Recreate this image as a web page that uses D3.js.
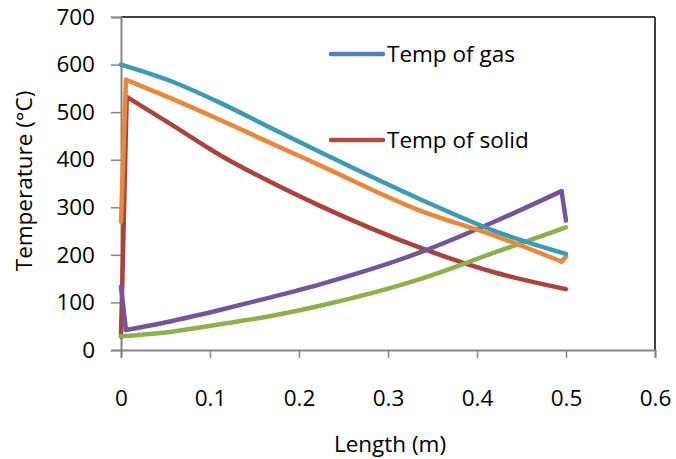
<!DOCTYPE html>
<html>
<head>
<meta charset="utf-8">
<script src="https://cdn.jsdelivr.net/npm/d3@7"></script>
<style>
  body { margin: 0; background: #fff; }
  svg text { font-family: "Open Sans", "Liberation Sans", sans-serif; fill: #000; }
</style>
</head>
<body>
<svg id="chart" width="676" height="459"></svg>
<script>
/** data **/
var xTicks = [0, 0.1, 0.2, 0.3, 0.4, 0.5, 0.6];
var yTicks = [0, 100, 200, 300, 400, 500, 600, 700];

var gasX    = [0, 0.055, 0.111, 0.167, 0.2236, 0.336, 0.42, 0.5];
var gasY    = [600, 566, 520, 468, 416, 317, 250, 202];

var orangeX = [0, 0.0056, 0.055, 0.111, 0.167, 0.2236, 0.336, 0.42, 0.495, 0.5];
var orangeY = [270, 568, 530, 484, 436, 388, 293, 240, 186, 196];

var solidX  = [0, 0.0064, 0.055, 0.111, 0.167, 0.2236, 0.336, 0.42, 0.5];
var solidY  = [28, 532, 476, 410, 354, 303, 215, 163, 128];

var purpleX = [0, 0.0056, 0.055, 0.111, 0.167, 0.2236, 0.336, 0.42, 0.495, 0.5];
var purpleY = [133, 42, 60, 84, 110, 138, 205, 270, 334, 272];

var greenX  = [0, 0.055, 0.111, 0.167, 0.2236, 0.336, 0.42, 0.5];
var greenY  = [29, 38, 54, 71, 93, 149, 205, 258];

var legendNames = ["Temp of gas", "Temp of solid"];

/** layout **/
var svg = d3.select("#chart");
var pLeft = 121, pRight = 655, pTop = 17, pBottom = 350;
var fs = "22.5px";

var x = d3.scaleLinear().domain([0, 0.6]).range([pLeft, pRight]);
var y = d3.scaleLinear().domain([0, 700]).range([pBottom, pTop]);

// plot frame (top / right in black, axes in grey)
svg.append("line").attr("x1", pLeft).attr("x2", pRight).attr("y1", pTop).attr("y2", pTop)
  .attr("stroke", "#000").attr("stroke-width", 1.5);
svg.append("line").attr("x1", pRight).attr("x2", pRight).attr("y1", pTop).attr("y2", pBottom)
  .attr("stroke", "#000").attr("stroke-width", 1.5);

var xAxis = svg.append("g").attr("transform", "translate(0," + pBottom + ")")
  .call(d3.axisBottom(x).tickValues(xTicks).tickSize(8).tickPadding(32)
    .tickFormat(function(d) { return d === 0 ? "0" : d3.format(".1f")(d); }));
var yAxis = svg.append("g").attr("transform", "translate(" + pLeft + ",0)")
  .call(d3.axisLeft(y).tickValues(yTicks).tickSize(10).tickPadding(16));

[xAxis, yAxis].forEach(function(a) {
  a.select(".domain").attr("stroke", "#868686").attr("stroke-width", 2);
  a.selectAll(".tick line").attr("stroke", "#868686").attr("stroke-width", 1.5);
  a.selectAll(".tick text").attr("font-size", fs)
    .attr("font-family", "'Open Sans', 'Liberation Sans', sans-serif");
});

/** series **/
var smooth = d3.line().curve(d3.curveMonotoneX)
  .x(function(d) { return x(d[0]); })
  .y(function(d) { return y(d[1]); });
var straight = d3.line()
  .x(function(d) { return x(d[0]); })
  .y(function(d) { return y(d[1]); });

// sharp corners at start / end are drawn straight, the rest smooth
function drawSeries(xs, ys, col, sharpStart, sharpEnd) {
  var pts = d3.zip(xs, ys);
  var a = sharpStart ? 1 : 0;
  var b = sharpEnd ? pts.length - 2 : pts.length - 1;
  var g = svg.append("g")
    .attr("fill", "none")
    .attr("stroke", col)
    .attr("stroke-width", 4.5)
    .attr("stroke-linejoin", "round")
    .attr("stroke-linecap", "round");
  if (sharpStart) g.append("path").attr("d", straight(pts.slice(0, 2)));
  g.append("path").attr("d", smooth(pts.slice(a, b + 1)));
  if (sharpEnd) g.append("path").attr("d", straight(pts.slice(b)));
}

drawSeries(solidX, solidY, "#AC423E", true, false);
drawSeries(greenX, greenY, "#8DB04A", false, false);
drawSeries(purpleX, purpleY, "#72559B", true, true);
drawSeries(orangeX, orangeY, "#E8883A", true, true);
drawSeries(gasX, gasY, "#3B9BB5", false, false);

/** legend **/
var legCols = ["#4F81BD", "#B04844"];
var legY = [54, 140];
legendNames.forEach(function(n, i) {
  svg.append("line")
    .attr("x1", 331).attr("x2", 383).attr("y1", legY[i]).attr("y2", legY[i])
    .attr("stroke", legCols[i]).attr("stroke-width", 4.5).attr("stroke-linecap", "round");
  svg.append("text").attr("x", 387).attr("y", legY[i]).attr("dy", "0.35em")
    .attr("font-size", fs).text(n);
});

/** axis titles **/
svg.append("text").attr("x", 390).attr("y", 452)
  .attr("text-anchor", "middle").attr("font-size", fs).text("Length (m)");
svg.append("text")
  .attr("transform", "translate(32,181) rotate(-90)")
  .attr("text-anchor", "middle").attr("font-size", fs).text("Temperature (°C)");
</script>
</body>
</html>
